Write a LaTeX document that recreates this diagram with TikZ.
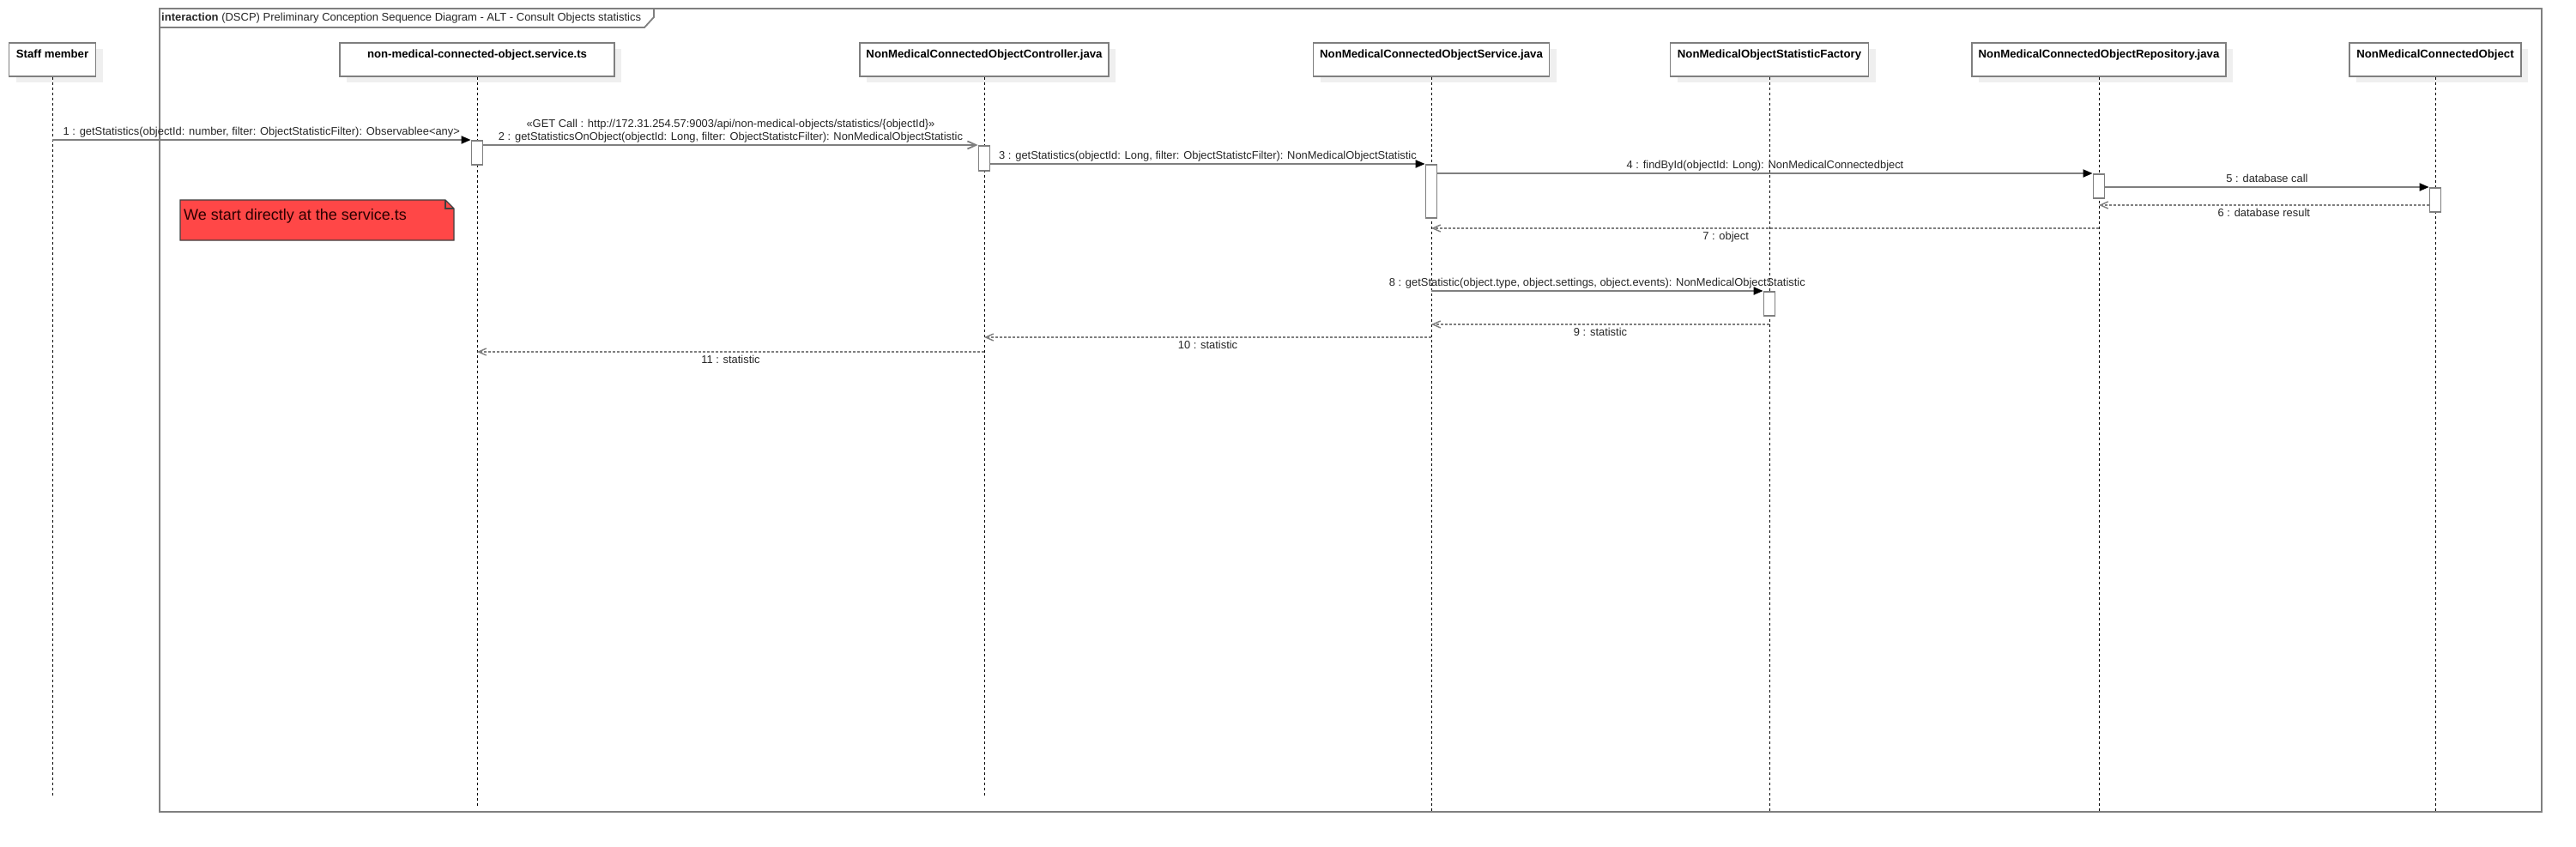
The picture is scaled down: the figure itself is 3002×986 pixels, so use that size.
\documentclass[tikz,border=0pt]{standalone}
\usepackage{fontspec}
\setmainfont{Liberation Sans}
\usetikzlibrary{arrows.meta,shadows}
\definecolor{linegray}{HTML}{7F7F7F}
\definecolor{shadowgray}{HTML}{EFEFEF}
\definecolor{notered}{HTML}{FF4747}
\definecolor{txt}{HTML}{262626}
\definecolor{notetxt}{HTML}{2A0000}
\begin{document}
\begin{tikzpicture}[x=1pt,y=-1pt,
  frame/.style={draw=linegray, line width=1.8pt},
  lifebox/.style={draw=linegray, line width=1.8pt, fill=white, anchor=north, inner xsep=0pt, inner ysep=0pt, text height=18pt, text depth=21pt, font=\bfseries\fontsize{13.2}{15}\selectfont, text=black, drop shadow={shadow xshift=8pt, shadow yshift=-7pt, opacity=1, fill=shadowgray}},
  lifeline/.style={draw=black, line width=0.9pt, dash pattern=on 3pt off 3pt},
  act/.style={draw=linegray, line width=1.8pt, fill=white, minimum width=13pt, inner sep=0pt, anchor=north},
  msg/.style={draw=linegray, line width=1.8pt, -{Triangle[length=11pt,width=9pt,color=black]}},
  call/.style={draw=linegray, line width=1.8pt, -{Straight Barb[length=10pt,width=9pt]}},
  ret/.style={draw=linegray, line width=1.8pt, dash pattern=on 3pt off 2pt, -{Straight Barb[length=9pt,width=8pt,line width=1.4pt]}},
  lbl/.style={anchor=base, text=txt, font=\fontsize{12.9}{15}\selectfont, inner sep=0pt},
  abovelbl/.style={lbl, yshift=6pt},
  belowlbl/.style={lbl, yshift=-13.5pt},
]
\useasboundingbox (0,0) rectangle (3002,986);
\fill[white] (0,0) rectangle (3002,986);

% frame
\draw[frame] (186,10) rectangle (2962,946);
\draw[frame] (186,32) -- (751,32) -- (762,20) -- (762,10);
\node[anchor=west, inner sep=0pt, text=txt, font=\fontsize{13}{15}\selectfont] (title) at (188,21)
  {\textbf{interaction} (DSCP) Preliminary Conception Sequence Diagram - ALT - Consult Objects statistics};

% lifeline heads
\node[lifebox, minimum width=101pt] (staff) at (61,49) {Staff member};
\node[lifebox, minimum width=320pt] (sts) at (556,49) {non-medical-connected-object.service.ts};
\node[lifebox, minimum width=290pt] (ctl) at (1147,49) {NonMedicalConnectedObjectController.java};
\node[lifebox, minimum width=275pt] (svj) at (1668,49) {NonMedicalConnectedObjectService.java};
\node[lifebox, minimum width=231pt] (fac) at (2062,49) {NonMedicalObjectStatisticFactory};
\node[lifebox, minimum width=296pt] (repo) at (2446,49) {NonMedicalConnectedObjectRepository.java};
\node[lifebox, minimum width=200pt] (nmco) at (2838,49) {NonMedicalConnectedObject};

% lifeline ends
\coordinate (staffEnd) at (61,927);
\coordinate (stsEnd) at (556,940);
\coordinate (ctlEnd) at (1147,927);
\coordinate (svjEnd) at (1668,946);
\coordinate (facEnd) at (2062,946);
\coordinate (repoEnd) at (2446,946);
\coordinate (nmcoEnd) at (2838,946);

\draw[lifeline] (staff.south) -- (staffEnd);
\draw[lifeline] (sts.south) -- (stsEnd);
\draw[lifeline] (ctl.south) -- (ctlEnd);
\draw[lifeline] (svj.south) -- (svjEnd);
\draw[lifeline] (fac.south) -- (facEnd);
\draw[lifeline] (repo.south) -- (repoEnd);
\draw[lifeline] (nmco.south) -- (nmcoEnd);

% activations
\node[act, minimum height=28pt] (act1) at (556,163) {};
\node[act, minimum height=29pt] (act2) at (1147,169) {};
\node[act, minimum height=62pt] (act3) at (1668,191) {};
\node[act, minimum height=28pt] (act4) at (2446,202) {};
\node[act, minimum height=28pt] (act5) at (2838,218) {};
\node[act, minimum height=28pt] (act6) at (2062,339) {};

% message rows
\coordinate (m6) at (0,239);
\coordinate (m7) at (0,266);
\coordinate (m9) at (0,378);
\coordinate (m10) at (0,393);
\coordinate (m11) at (0,410);

\draw[msg] (staff.south |- act1.north) -- (act1.north west)
  node[abovelbl, pos=.5] (l1) {1 : getStatistics(objectId: number, filter: ObjectStatisticFilter): Observablee<any>};
\draw[call] (act1.east |- act2.north) -- (act2.north west)
  node[abovelbl, pos=.5] (l2) {2 : getStatisticsOnObject(objectId: Long, filter: ObjectStatistcFilter): NonMedicalObjectStatistic}
  node[lbl, yshift=21pt, pos=.5] (l2b) {«GET Call : http://172.31.254.57:9003/api/non-medical-objects/statistics/\{objectId\}»};
\draw[msg] (act2.east |- act3.north) -- (act3.north west)
  node[abovelbl, pos=.5] (l3) {3 : getStatistics(objectId: Long, filter: ObjectStatistcFilter): NonMedicalObjectStatistic};
\draw[msg] (act3.east |- act4.north) -- (act4.north west)
  node[abovelbl, pos=.5] (l4) {4 : findById(objectId: Long): NonMedicalConnectedbject};
\draw[msg] (act4.east |- act5.north) -- (act5.north west)
  node[abovelbl, pos=.5] (l5) {5 : database call};
\draw[ret] (act5.west |- m6) -- (repo.south |- m6)
  node[belowlbl, pos=.5] (l6) {6 : database result};
\draw[ret] (repo.south |- m7) -- (svj.south |- m7)
  node[belowlbl, pos=.559] (l7) {7 : object};
\draw[msg] (svj.south |- act6.north) -- (act6.north west)
  node[abovelbl, pos=.5] (l8) {8 : getStatistic(object.type, object.settings, object.events): NonMedicalObjectStatistic};
\draw[ret] (fac.south |- m9) -- (svj.south |- m9)
  node[belowlbl, pos=.5] (l9) {9 : statistic};
\draw[ret] (svj.south |- m10) -- (ctl.south |- m10)
  node[belowlbl, pos=.5] (l10) {10 : statistic};
\draw[ret] (ctl.south |- m11) -- (sts.south |- m11)
  node[belowlbl, pos=.5] (l11) {11 : statistic};

% note
\draw[draw=black!75, line width=1.4pt, fill=notered] (210,233) -- (519,233) -- (529,243) -- (529,280) -- (210,280) -- cycle;
\draw[draw=black!75, line width=1.2pt] (519,233) -- (519,243) -- (529,243);
\node[anchor=base west, inner sep=0pt, text=notetxt, font=\fontsize{18}{21}\selectfont] (note) at (214,256) {We start directly at the service.ts};
\end{tikzpicture}
\end{document}
